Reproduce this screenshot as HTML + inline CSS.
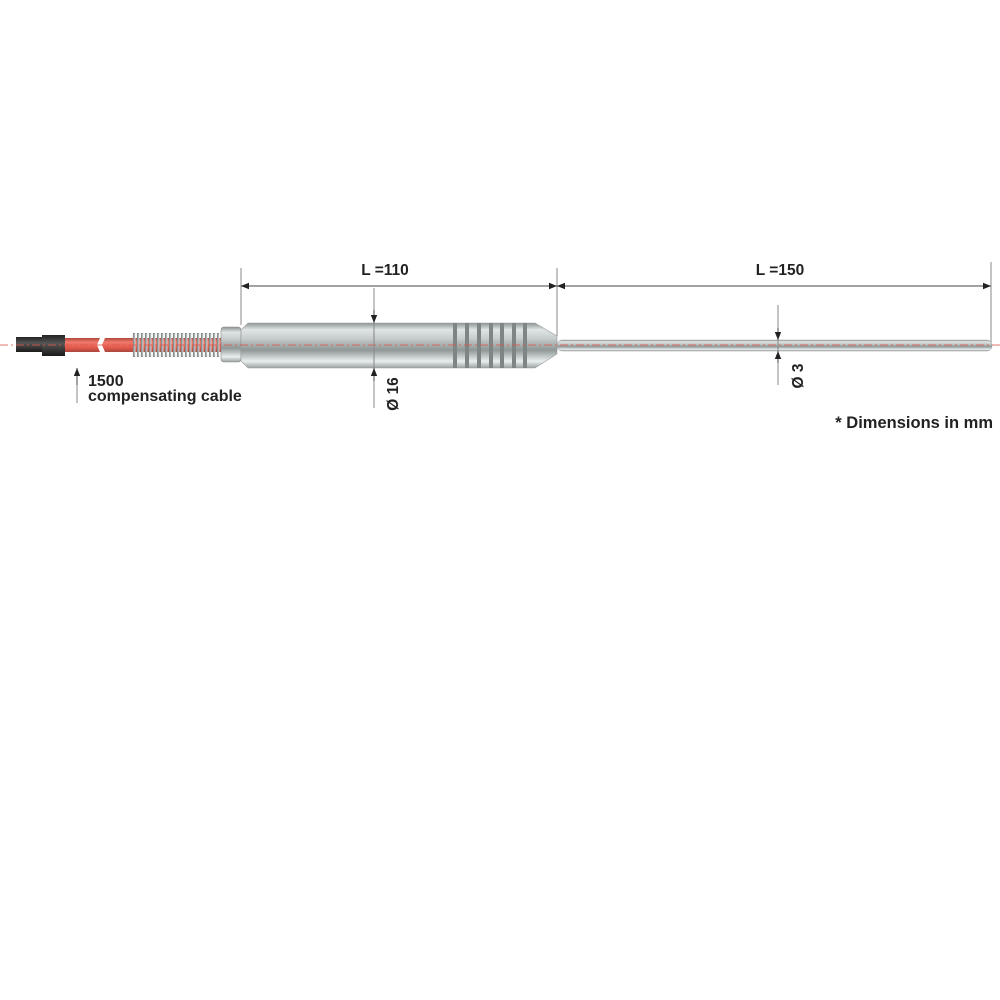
<!DOCTYPE html>
<html><head><meta charset="utf-8"><style>
html,body{margin:0;padding:0;background:#fff}
svg{display:block}
text{font-family:"Liberation Sans",Arial,sans-serif;font-weight:bold;fill:#222}
</style></head><body>
<svg width="1000" height="1000" viewBox="0 0 1000 1000" xmlns="http://www.w3.org/2000/svg">
<defs>
<linearGradient id="metal" x1="0" y1="0" x2="0" y2="1">
<stop offset="0" stop-color="#8e9595"/><stop offset="0.15" stop-color="#dfe4e4"/><stop offset="0.35" stop-color="#c6cbcb"/><stop offset="0.6" stop-color="#8f9797"/><stop offset="0.85" stop-color="#e9eeee"/><stop offset="1" stop-color="#9aa1a1"/>
</linearGradient>
<linearGradient id="red" x1="0" y1="0" x2="0" y2="1">
<stop offset="0" stop-color="#b0473c"/><stop offset="0.3" stop-color="#f07a6c"/><stop offset="0.7" stop-color="#e0584a"/><stop offset="1" stop-color="#a9463c"/>
</linearGradient>
<linearGradient id="blk" x1="0" y1="0" x2="0" y2="1">
<stop offset="0" stop-color="#222"/><stop offset="0.4" stop-color="#555"/><stop offset="1" stop-color="#1a1a1a"/>
</linearGradient>
<marker id="ar" viewBox="0 0 10 10" refX="10" refY="5" markerWidth="8" markerHeight="8" orient="auto-start-reverse" markerUnits="userSpaceOnUse"><path d="M0,1 L10,5 L0,9 z" fill="#222"/></marker>
</defs>

<rect x="16" y="337" width="26" height="15" fill="url(#blk)"/>
<rect x="42" y="335" width="23" height="21" fill="url(#blk)"/>
<polygon points="65,338 100,338 97,345 100,352 65,352" fill="url(#red)"/>
<polygon points="105,338 135,338 135,352 105,352 102,345" fill="url(#red)"/>
<rect x="132" y="338" width="92" height="14" fill="url(#red)"/>
<g stroke="#8a9090" stroke-width="2.2" fill="none">
<path d="M134,333 v24 M138,333 v24 M142,333 v24 M146,333 v24 M150,333 v24 M154,333 v24 M158,333 v24 M162,333 v24 M166,333 v24 M170,333 v24 M174,333 v24 M178,333 v24 M182,333 v24 M186,333 v24 M190,333 v24 M194,333 v24 M198,333 v24 M202,333 v24 M206,333 v24 M210,333 v24 M214,333 v24 M218,333 v24"/>
</g>
<g stroke="#e8ecec" stroke-width="0.8" fill="none">
<path d="M135,334 v22 M139,334 v22 M143,334 v22 M147,334 v22 M151,334 v22 M155,334 v22 M159,334 v22 M163,334 v22 M167,334 v22 M171,334 v22 M175,334 v22 M179,334 v22 M183,334 v22 M187,334 v22 M191,334 v22 M195,334 v22 M199,334 v22 M203,334 v22 M207,334 v22 M211,334 v22 M215,334 v22 M219,334 v22"/>
</g>
<rect x="221" y="327" width="20" height="35" rx="3" fill="url(#metal)" stroke="#888" stroke-width="0.6"/>
<path d="M248,323 L535,323 L557,336 L557,354 L535,368 L248,368 L241,361 L241,330 Z" fill="url(#metal)" stroke="#999" stroke-width="0.6"/>
<g fill="#7d8585">
<rect x="453" y="323" width="4" height="45"/><rect x="465" y="323" width="4" height="45"/><rect x="477" y="323" width="4" height="45"/><rect x="489" y="323" width="4" height="45"/><rect x="500" y="323" width="4" height="45"/><rect x="512" y="323" width="4" height="45"/><rect x="523" y="323" width="4" height="45"/>
</g>
<rect x="557" y="340" width="435" height="11" rx="5" fill="url(#metal)" stroke="#999" stroke-width="0.5"/>
<line x1="0" y1="345" x2="1000" y2="345" stroke="#e0584a" stroke-width="1" stroke-dasharray="8,3,2,3" opacity="0.8"/>

<g stroke="#888" stroke-width="1" fill="none">
<line x1="241" y1="268" x2="241" y2="325"/>
<line x1="557" y1="268" x2="557" y2="336"/>
<line x1="991" y1="262" x2="991" y2="342"/>
<line x1="374" y1="288" x2="374" y2="408"/>
<line x1="778" y1="305" x2="778" y2="385"/>
<line x1="77" y1="368" x2="77" y2="403"/>
</g>
<g stroke="#444" stroke-width="1">
<line x1="241" y1="286" x2="557" y2="286" marker-start="url(#ar)" marker-end="url(#ar)"/>
<line x1="557" y1="286" x2="991" y2="286" marker-start="url(#ar)" marker-end="url(#ar)"/>
<line x1="374" y1="310" x2="374" y2="323" marker-end="url(#ar)"/>
<line x1="374" y1="381" x2="374" y2="368" marker-end="url(#ar)"/>
<line x1="778" y1="328" x2="778" y2="340" marker-end="url(#ar)"/>
<line x1="778" y1="363" x2="778" y2="351" marker-end="url(#ar)"/>
<line x1="77" y1="385" x2="77" y2="368" marker-end="url(#ar)"/>
</g>

<text x="385" y="275" font-size="15.5" text-anchor="middle">L =110</text>
<text x="780" y="275" font-size="15.5" text-anchor="middle">L =150</text>
<text x="88" y="386" font-size="16">1500</text>
<text x="88" y="401" font-size="16">compensating cable</text>
<text transform="translate(398,394) rotate(-90)" font-size="15.5" text-anchor="middle">Ø 16</text>
<text transform="translate(803,376) rotate(-90)" font-size="15.5" text-anchor="middle">Ø 3</text>
<text x="993" y="428" font-size="16.5" text-anchor="end">* Dimensions in mm</text>
</svg>
</body></html>
